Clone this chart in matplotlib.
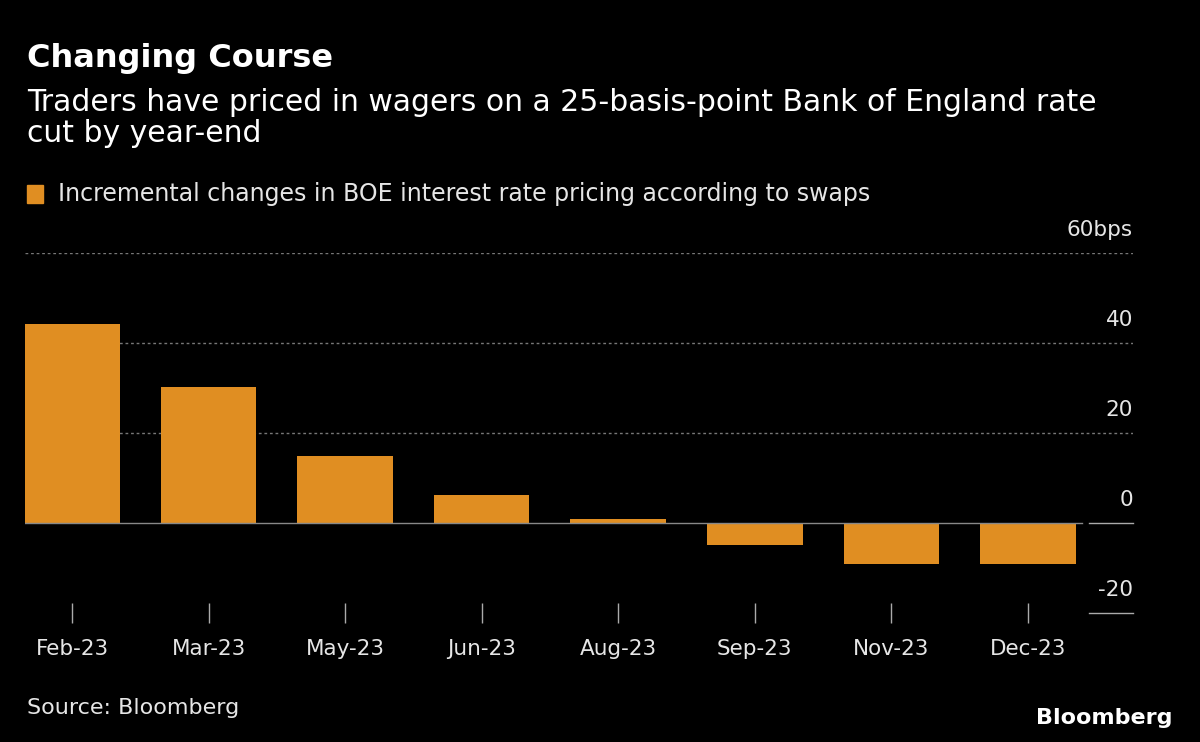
import matplotlib.pyplot as plt

months = ["Feb-23", "Mar-23", "May-23", "Jun-23", "Aug-23", "Sep-23", "Nov-23", "Dec-23"]
changes = [44.3, 30.2, 14.9, 6.2, 0.9, -4.9, -9.1, -9.1]
y_ticks = [-20, 0, 20, 40, 60]
y_labels = ["-20", "0", "20", "40", "60bps"]

BAR = "#E08E22"
FG = "#E6E6E6"
W, H = 1200, 742

fig = plt.figure(figsize=(12, 7.42), dpi=100, facecolor="black")
# axes from x=25..1133 px, y=253..613 px
ax = fig.add_axes([25 / W, 1 - 613 / H, (1133 - 25) / W, (613 - 253) / H], facecolor="black")

x = list(range(len(months)))
ax.bar(x, changes, width=0.7, color=BAR, zorder=3)
ax.set_xlim(-0.344, 7.77)
ax.set_ylim(-20, 60)

for v in [20, 40, 60]:
    ax.axhline(v, color="#777777", lw=1, ls=(0, (2, 2)), zorder=1)
ax.plot([-0.344, 7.4], [0, 0], color="#888888", lw=1, zorder=4)
for v in [0, -20]:
    ax.plot([7.45, 7.77], [v, v], color="#AAAAAA", lw=1, clip_on=False)
for v, lab in zip(y_ticks, y_labels):
    ax.text(7.77, v + 3, lab, color=FG, fontsize=15.5, ha="right", va="bottom")

for s in ax.spines.values():
    s.set_visible(False)
ax.set_yticks([])
ax.set_xticks(x)
ax.set_xticklabels(months, color=FG, fontsize=15.5)
ax.tick_params(axis="x", colors="#AAAAAA", length=14, width=1, pad=12, direction="inout", labelcolor=FG)

fig.text(27 / W, 1 - 58 / H, "Changing Course", color="white", fontsize=23, fontweight="bold", va="center")
fig.text(27 / W, 1 - 118 / H, "Traders have priced in wagers on a 25-basis-point Bank of England rate\ncut by year-end",
         color="white", fontsize=21.5, va="center", linespacing=1.05)
fig.patches.append(plt.Rectangle((27 / W, 1 - 203 / H), 16 / W, 18 / H, color=BAR, transform=fig.transFigure))
fig.text(58 / W, 1 - 194 / H, "Incremental changes in BOE interest rate pricing according to swaps",
         color=FG, fontsize=17, va="center")
fig.text(27 / W, 1 - 708 / H, "Source: Bloomberg", color=FG, fontsize=16, va="center")
fig.text(1173 / W, 1 - 718 / H, "Bloomberg", color="white", fontsize=16, fontweight="bold", ha="right", va="center")

fig.savefig("out.png", dpi=100, facecolor="black")
